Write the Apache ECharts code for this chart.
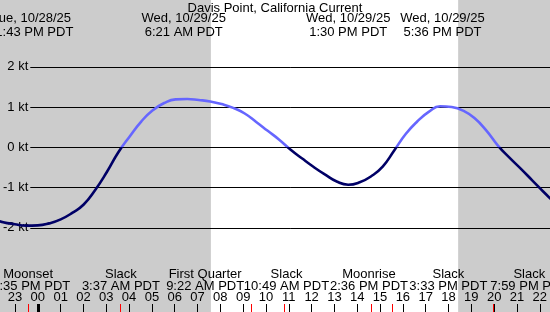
<!DOCTYPE html>
<html>
<head>
<meta charset="utf-8">
<script src="https://cdn.jsdelivr.net/npm/echarts@6/dist/echarts.min.js"></script>
<style>
html, body { margin: 0; padding: 0; background: #fff; }
#chart { width: 550px; height: 312px; }
</style>
</head>
<body>
<div id="chart"></div>
<script>
// times are hours from midnight, Wed 10/29/25 (PDT); negative = Tue evening
const hours = [-2.0, -1.5, -1.0, -0.5, 0.0, 0.5, 1.0, 1.5, 2.0, 2.5, 3.0, 3.5, 4.0, 4.5, 5.0, 5.5, 6.0, 6.5,
  7.0, 7.5, 8.0, 8.5, 9.0, 9.5, 10.0, 10.5, 11.0, 11.5, 12.0, 12.5, 13.0, 13.5, 14.0, 14.5, 15.0, 15.5,
  16.0, 16.5, 17.0, 17.5, 18.0, 18.5, 19.0, 19.5, 20.0, 20.5, 21.0, 21.5, 22.0, 22.5];
const knots = [-1.77, -1.86, -1.91, -1.945, -1.94, -1.89, -1.79, -1.63, -1.42, -1.06, -0.62, -0.13, 0.27, 0.64, 0.92, 1.1, 1.19, 1.2,
  1.175, 1.14, 1.075, 0.98, 0.84, 0.63, 0.41, 0.19, -0.06, -0.28, -0.49, -0.68, -0.85, -0.93, -0.87, -0.72, -0.48, -0.08,
  0.33, 0.64, 0.88, 1.02, 1.0, 0.91, 0.72, 0.42, 0.05, -0.25, -0.53, -0.82, -1.11, -1.39];

const sunrise = 7.53;
const sunset = 18.28;

const extremeTimes = [-0.283, 6.35, 13.5, 17.6];
const extremeDates = ['Tue, 10/28/25', 'Wed, 10/29/25', 'Wed, 10/29/25', 'Wed, 10/29/25'];
const extremeClock = ['11:43 PM PDT', '6:21 AM PDT', '1:30 PM PDT', '5:36 PM PDT'];

const eventTimes = [-0.417, 3.617, 9.367, 10.817, 14.6, 15.55, 19.983];
const eventNames = ['Moonset', 'Slack', 'First Quarter', 'Slack', 'Moonrise', 'Slack', 'Slack'];
const eventClock = ['11:35 PM PDT', '3:37 AM PDT', '9:22 AM PDT', '10:49 AM PDT', '2:36 PM PDT', '3:33 PM PDT', '7:59 PM PDT'];

// label nudges so the bottom texts don't collide (pixels)
const eventNudge = [0, 0, -48, 0, -4.5, 53, 32];

const FONT = '13px "Liberation Sans", Arial, sans-serif';
const xMin = -37.7 / 23, xMax = (550 - 37.7) / 23;

const chart = echarts.init(document.getElementById('chart'), null, { renderer: 'canvas' });

const option = {
    animation: false,
    backgroundColor: '#ffffff',
    textStyle: { fontFamily: '"Liberation Sans", Arial, sans-serif' },
    grid: [
        { left: 0, right: 0, top: 0, bottom: 0 },
        { left: 30, right: 0, top: 66.8, height: 161 },
        { left: 15, right: 6, top: 304, height: 8 }
    ],
    xAxis: [
        { gridIndex: 0, type: 'value', min: xMin, max: xMax, show: false },
        { gridIndex: 1, type: 'value', min: 0, max: 1, show: false },
        {
            gridIndex: 2, type: 'value', min: -1, max: 22, interval: 1, position: 'top', z: 4,
            axisLine: { show: false, onZero: false },
            splitLine: { show: false },
            axisTick: { show: true, inside: true, length: 8, lineStyle: { color: '#000', width: 1 } },
            axisLabel: {
                show: true, color: '#000', fontSize: 13, margin: 7, verticalAlign: 'middle',
                showMinLabel: true, showMaxLabel: true,
                formatter: v => String((Math.round(v) + 24) % 24).padStart(2, '0')
            }
        }
    ],
    yAxis: [
        { gridIndex: 0, type: 'value', min: -(312 - 147.3) / 40.25, max: 147.3 / 40.25, show: false },
        {
            gridIndex: 1, type: 'value', min: -2, max: 2, interval: 1, z: 2,
            axisLine: { show: false }, axisTick: { show: false },
            splitLine: { show: true, lineStyle: { color: '#000', width: 1 } },
            axisLabel: { color: '#000', fontSize: 13, margin: 2, formatter: '{value} kt' }
        },
        { gridIndex: 2, type: 'value', min: 0, max: 1, show: false }
    ],
    visualMap: {
        type: 'piecewise', show: false, seriesIndex: 1, dimension: 1,
        pieces: [{ gt: -10, lte: 0, color: '#000066' }, { gt: 0, lte: 10, color: '#6666ff' }]
    },
    series: [
        {
            type: 'line', xAxisIndex: 0, yAxisIndex: 0, data: [], silent: true,
            markArea: {
                silent: true, z: 0,
                itemStyle: { color: '#cccccc' },
                data: [
                    [{ xAxis: xMin }, { xAxis: sunrise }],
                    [{ xAxis: sunset }, { xAxis: xMax }]
                ]
            }
        },
        {
            type: 'line', xAxisIndex: 0, yAxisIndex: 0, z: 3,
            data: hours.map((h, i) => [h, knots[i]]),
            smooth: 0.5, showSymbol: false, silent: true,
            lineStyle: { width: 2.6 }
        },
        {
            type: 'line', xAxisIndex: 2, yAxisIndex: 2, data: [], silent: true,
            markLine: {
                silent: true, symbol: 'none', z: 6, label: { show: false },
                lineStyle: { color: '#ff0000', width: 1, type: 'solid' },
                data: eventTimes.map(t => ({ xAxis: t }))
            }
        },
        {
            type: 'line', xAxisIndex: 2, yAxisIndex: 2, data: [], silent: true,
            markLine: {
                silent: true, symbol: 'none', z: 6, label: { show: false },
                lineStyle: { color: '#000000', width: 3, type: 'solid' },
                data: [{ xAxis: 0 }]
            }
        }
    ]
};

chart.setOption(option);

const graphic = [];
const txt = (x, y, text) => ({
    type: 'text', x: x, y: y, z: 10, silent: true,
    style: { text: text, fill: '#000', font: FONT, align: 'center', verticalAlign: 'middle' }
});
graphic.push(txt(275, 8, 'Davis Point, California Current'));
extremeTimes.forEach((t, i) => {
    const px = chart.convertToPixel({ xAxisIndex: 0 }, t);
    graphic.push(txt(px, 18.5, extremeDates[i]));
    graphic.push(txt(px, 32, extremeClock[i]));
});
eventTimes.forEach((t, i) => {
    const px = chart.convertToPixel({ xAxisIndex: 0 }, t) + eventNudge[i];
    graphic.push(txt(px, 274, eventNames[i]));
    graphic.push(txt(px, 286, eventClock[i]));
});
chart.setOption({ graphic: graphic });
</script>
</body>
</html>
